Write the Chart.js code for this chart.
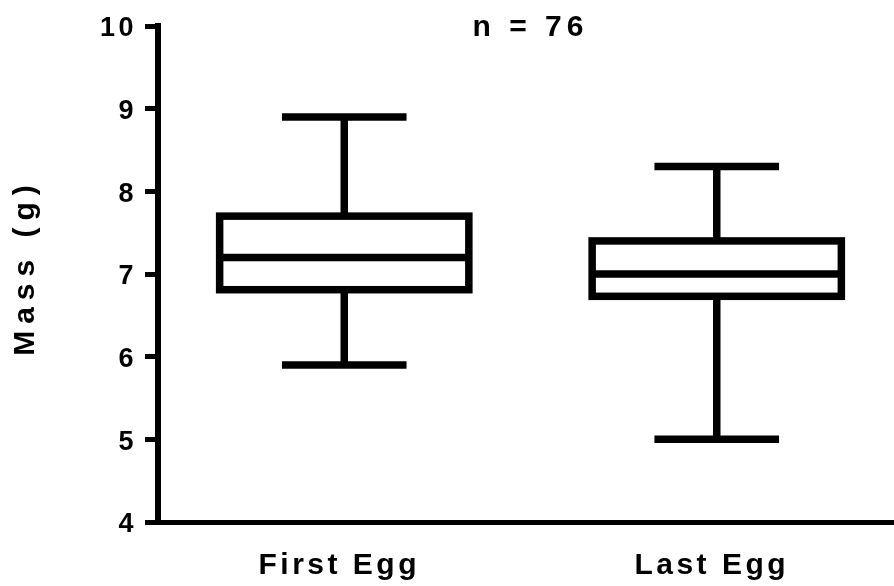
<!DOCTYPE html>
<html>
<head>
<meta charset="utf-8">
<script src="https://cdn.jsdelivr.net/npm/chart.js@4"></script>
<style>
  html, body { margin: 0; padding: 0; overflow: hidden; background: #fff; width: 894px; height: 586px; }
  canvas { display: block; }
</style>
</head>
<body>
<canvas id="c" width="910" height="586"></canvas>
<script>
// Egg mass summary: box = interquartile range, line = median, whiskers = min / max
const categories = ['First Egg', 'Last Egg'];
const whiskerLow = [5.9, 5.0];
const q1 = [6.81, 6.73];
const median = [7.2, 7.0];
const q3 = [7.7, 7.4];
const whiskerHigh = [8.9, 8.3];
const yTicks = [4, 5, 6, 7, 8, 9, 10];
const sampleLabel = 'n = 76';
const yTitle = 'Mass (g)';

const FONT = '"Liberation Sans", Arial, Helvetica, sans-serif';
const TICK_SPACING = '3.5px';

// wide letter spacing for the axis tick labels
const letterSpacing = {
  id: 'letterSpacing',
  beforeUpdate(chart) { chart.ctx.letterSpacing = TICK_SPACING; },
  beforeDraw(chart) { chart.ctx.letterSpacing = TICK_SPACING; }
};

// whiskers, box outline and median, placed on the bar elements' x positions
const boxPlot = {
  id: 'boxPlot',
  afterDatasetsDraw(chart) {
    const ctx = chart.ctx;
    const y = chart.scales.y;
    const meta = chart.getDatasetMeta(0);
    const seg = (x1, y1, x2, y2) => { ctx.beginPath(); ctx.moveTo(x1, y1); ctx.lineTo(x2, y2); ctx.stroke(); };
    ctx.save();
    ctx.strokeStyle = '#000';
    ctx.lineWidth = 7.5;
    ctx.lineCap = 'butt';
    ctx.lineJoin = 'miter';
    meta.data.forEach((bar, i) => {
      const cx = bar.x;
      const half = bar.width / 2;
      const cap = bar.width / 4;
      const pLo = y.getPixelForValue(whiskerLow[i]);
      const pQ1 = y.getPixelForValue(q1[i]);
      const pMed = y.getPixelForValue(median[i]);
      const pQ3 = y.getPixelForValue(q3[i]);
      const pHi = y.getPixelForValue(whiskerHigh[i]);
      seg(cx, pQ1, cx, pLo);
      seg(cx, pQ3, cx, pHi);
      seg(cx - cap, pLo, cx + cap, pLo);
      seg(cx - cap, pHi, cx + cap, pHi);
      ctx.strokeRect(cx - half, pQ3, bar.width, pQ1 - pQ3);
      seg(cx - half, pMed, cx + half, pMed);
    });
    ctx.restore();
  }
};

// sample size note above the plot and the rotated y-axis title
const annotations = {
  id: 'annotations',
  afterDraw(chart) {
    const ctx = chart.ctx;
    const area = chart.chartArea;
    const yTop = chart.scales.y.getPixelForValue(yTicks[yTicks.length - 1]);
    ctx.save();
    ctx.fillStyle = '#000';
    ctx.font = 'bold 30px ' + FONT;
    ctx.letterSpacing = '5px';
    ctx.textAlign = 'center';
    ctx.textBaseline = 'alphabetic';
    ctx.fillText(sampleLabel, (area.left + area.right) / 2, yTop + 10);

    ctx.letterSpacing = '7px';
    ctx.translate(26, (area.top + area.bottom) / 2 - 7);
    ctx.rotate(-Math.PI / 2);
    ctx.textBaseline = 'middle';
    ctx.fillText(yTitle, 0, 0);
    ctx.restore();
  }
};

new Chart(document.getElementById('c'), {
  type: 'bar',
  data: {
    labels: categories,
    datasets: [{
      data: q1.map((v, i) => [v, q3[i]]),
      backgroundColor: '#fff',
      borderWidth: 0,
      barPercentage: 1,
      categoryPercentage: 0.669
    }]
  },
  options: {
    responsive: false,
    animation: false,
    events: [],
    layout: { padding: { top: 26, right: 7, left: 0, bottom: 0 } },
    plugins: { legend: { display: false }, tooltip: { enabled: false }, title: { display: false } },
    scales: {
      x: {
        grid: { display: false, drawTicks: false },
        border: { display: true, color: '#000', width: 5 },
        ticks: { color: '#000', padding: 26, labelOffset: -5, font: { family: FONT, size: 30, weight: 'bold' } },
        afterFit(s) { s.height = 64; }
      },
      y: {
        min: 4,
        max: 10,
        afterBuildTicks(s) { s.ticks = yTicks.map(v => ({ value: v })); },
        grid: { drawOnChartArea: false, drawTicks: true, tickLength: 13, lineWidth: 5, color: '#000' },
        border: { display: true, color: '#000', width: 6 },
        ticks: { color: '#000', padding: 8, labelOffset: 3, font: { family: FONT, size: 27, weight: 'bold' } },
        afterFit(s) { s.width = 158; }
      }
    }
  },
  plugins: [letterSpacing, boxPlot, annotations]
});
</script>
</body>
</html>
